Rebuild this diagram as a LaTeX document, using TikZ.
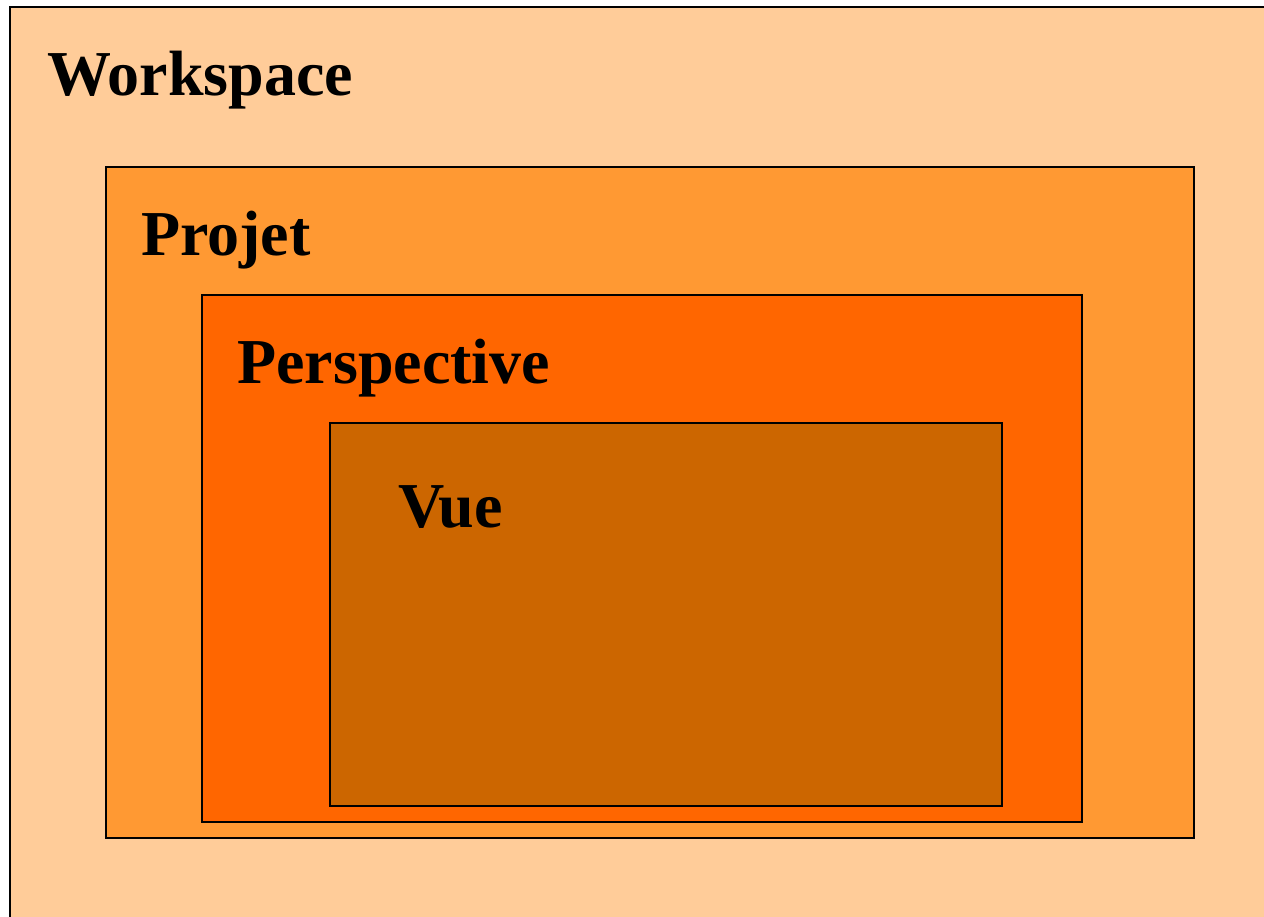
\documentclass[tikz,border=0pt]{standalone}
\usepackage{fontspec}
\setmainfont{Liberation Serif}
\definecolor{wsfill}{HTML}{FFCC99}
\definecolor{prfill}{HTML}{FF9933}
\definecolor{pefill}{HTML}{FF6600}
\definecolor{vufill}{HTML}{CC6600}
\tikzset{
  boxframe/.style={draw=black, line width=2pt},
  lbl/.style={anchor=base west, inner sep=0pt, font=\fontsize{64}{76}\selectfont\bfseries}
}
\begin{document}
\begin{tikzpicture}[x=1pt,y=-1pt]
\useasboundingbox (0,0) rectangle (1264,916);
\fill[white] (0,0) rectangle (1264,916);
\draw[boxframe, fill=wsfill] (10,7) rectangle (1280,930);
\draw[boxframe, fill=prfill] (106,167) rectangle (1194,838);
\draw[boxframe, fill=pefill] (202,295) rectangle (1082,822);
\draw[boxframe, fill=vufill] (330,423) rectangle (1002,806);
\node[lbl] (ws) at (47,95) {Workspace};
\node[lbl] (pr) at (141,255) {Projet};
\node[lbl] (pe) at (237,383) {Perspective};
\node[lbl] (vu) at (398,527) {Vue};
\end{tikzpicture}
\end{document}
